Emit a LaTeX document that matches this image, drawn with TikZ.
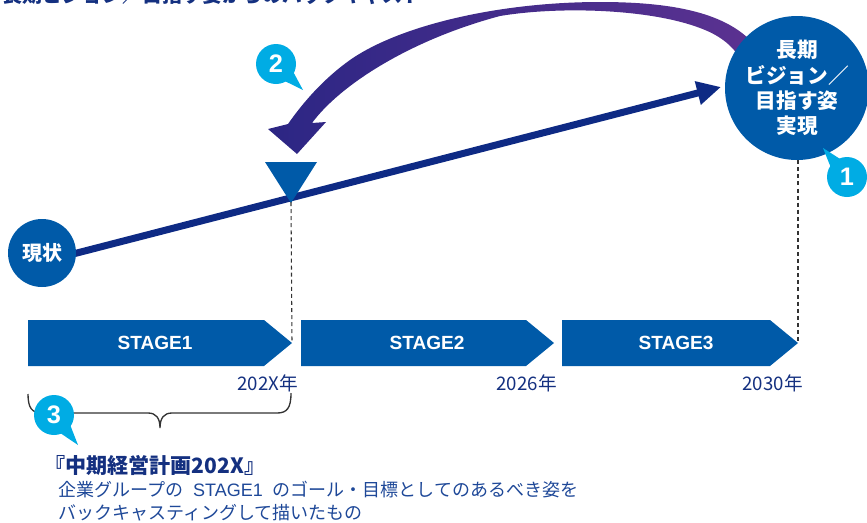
\documentclass[tikz,border=0pt]{standalone}
\usepackage{fontspec}
\setmainfont{Noto Sans CJK JP}
\newfontfamily\lsans{Liberation Sans}
\usetikzlibrary{arrows.meta,calc}
\definecolor{cblue}{RGB}{0,90,168}
\definecolor{navy}{RGB}{14,42,132}
\definecolor{cyanb}{RGB}{0,172,228}
\definecolor{purpR}{RGB}{92,50,145}
\definecolor{purpL}{RGB}{44,38,132}
\definecolor{txtnavy}{RGB}{20,48,128}
\definecolor{txtblue}{RGB}{30,72,152}
\definecolor{bracegray}{RGB}{51,51,51}
\tikzset{
  bigdisc/.style={circle, fill=cblue, text=white, inner sep=0pt, minimum size=108pt, align=center,
    font=\bfseries\fontsize{15.5}{19}\selectfont},
  smalldisc/.style={circle, fill=cblue, text=white, inner sep=0pt, minimum size=51pt,
    font=\bfseries\fontsize{15}{18}\selectfont},
  badge/.style={circle, fill=cyanb, text=white, inner sep=0pt, minimum size=30pt,
    font=\lsans\bfseries\fontsize{19}{20}\selectfont},
  badgetail/.style={fill=cyanb},
  mainarrow/.style={draw=navy, line width=5.25pt, -{Triangle[length=18pt,width=17pt]}},
  stagebox/.style={fill=cblue},
  stagelabel/.style={text=white, font=\lsans\bfseries\fontsize{14.3}{16}\selectfont},
  yearlabel/.style={anchor=east, inner sep=0pt, text=txtnavy, font=\fontsize{14}{15}\selectfont},
  guide/.style={draw=bracegray, line width=0.8pt, dash pattern=on 3pt off 2.3pt},
  bracestyle/.style={draw=bracegray, line width=1pt},
  marker/.style={fill=cblue}
}
\begin{document}
\begin{tikzpicture}[x=0.75pt,y=-0.75pt]
\useasboundingbox (0,0) rectangle (867,522);

% cut-off title at the top edge
\node[anchor=base west, inner sep=0pt, text=txtnavy, font=\bfseries\fontsize{15}{16}\selectfont] (title) at (2,2) {長期ビジョン／目指す姿からのバックキャスト};

% curved back-casting arrow (behind the vision disc)
\shade[left color=purpL, right color=purpR]
  (760,52) .. controls (735,15) and (680,2) .. (600,2)
  .. controls (500,2) and (400,25) .. (350,60)
  .. controls (322,80) and (302,104) .. (288,124)
  -- (268,129) -- (297,154) -- (326,122) -- (312,123)
  .. controls (340,85) and (410,40) .. (500,16)
  .. controls (560,6) and (650,9) .. (700,28)
  .. controls (722,36) and (735,48) .. (742,62) -- cycle;

% main line from present to vision
\coordinate (gc) at (42,253);
\path (gc) ++(0,9) coordinate (ls);
\coordinate (lt) at (721,87);
\draw[mainarrow] (ls) -- (lt);

% vision disc
\node[bigdisc] (vision) at (797,88) {長期\\ビジョン／\\目指す姿\\実現};
% present disc
\node[smalldisc] (genjo) at (gc) {現状};

% triangle marker
\fill[marker] (265,162) -- (317,162) -- (291,203) -- cycle;
\coordinate (tri) at (291,202);

% stages
\fill[stagebox] (28,320) -- (264,320) -- (292,343) -- (264,366) -- (28,366) -- cycle;
\fill[stagebox] (301,320) -- (526,320) -- (554,343) -- (526,366) -- (301,366) -- cycle;
\fill[stagebox] (562,320) -- (770,320) -- (798,343) -- (770,366) -- (562,366) -- cycle;
\coordinate (tip1) at (292,343);
\coordinate (tip3) at (798,343);
\node[stagelabel] (s1) at (155,343) {STAGE1};
\node[stagelabel] (s2) at (427,343) {STAGE2};
\node[stagelabel] (s3) at (676,343) {STAGE3};

% guides
\draw[guide] (tri) -- (tip1);
\draw[guide] (vision.south) ++(1,0) -- (tip3);

% years
\node[yearlabel] (y1) at (298,383) {202X年};
\node[yearlabel] (y2) at (557,383) {2026年};
\node[yearlabel] (y3) at (803,383) {2030年};

% brace
\draw[bracestyle] (28,394) .. controls (28,408) and (32,413) .. (42,413) -- (148,413)
  .. controls (156,413) and (160,418) .. (160,428)
  .. controls (160,418) and (164,413) .. (172,413) -- (277,413)
  .. controls (287,413) and (291,408) .. (291,393);

% badges
\coordinate (b1c) at (847,177); \coordinate (t1) at (823,148);
\fill[badgetail] ($(b1c)!9pt!90:(t1)$) -- (t1) -- ($(b1c)!9pt!-90:(t1)$) -- cycle;
\node[badge] (b1) at (b1c) {1};
\coordinate (b2c) at (276,64); \coordinate (t2) at (303,90);
\fill[badgetail] ($(b2c)!9pt!90:(t2)$) -- (t2) -- ($(b2c)!9pt!-90:(t2)$) -- cycle;
\node[badge] (b2) at (b2c) {2};
\coordinate (b3c) at (54,415); \coordinate (t3) at (78,445);
\fill[badgetail] ($(b3c)!9pt!90:(t3)$) -- (t3) -- ($(b3c)!9pt!-90:(t3)$) -- cycle;
\node[badge] (b3) at (b3c) {3};

% bottom texts
\node[anchor=west, inner sep=0pt, text=txtnavy, font=\bfseries\fontsize{15.8}{17}\selectfont] (plan) at (44,465) {『中期経営計画202X』};
\node[anchor=west, inner sep=0pt, text=txtblue, font=\fontsize{13.5}{17}\selectfont, align=left] (desc) at (58,501)
  {企業グループの\hspace{0.55em}{\lsans STAGE1}\hspace{0.55em}のゴール・目標としてのあるべき姿を\\バックキャスティングして描いたもの};
\end{tikzpicture}
\end{document}
